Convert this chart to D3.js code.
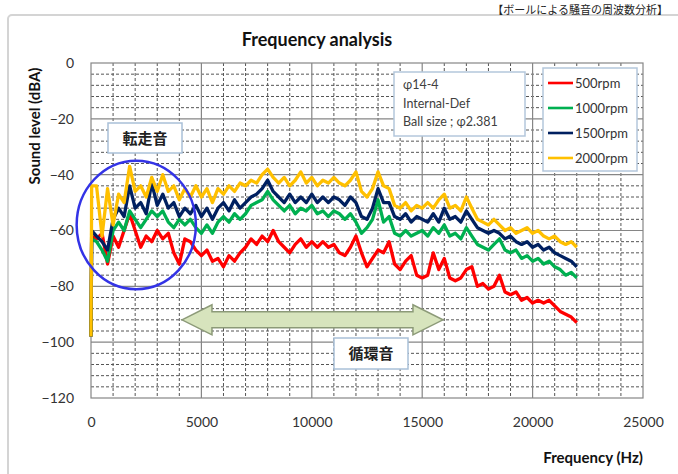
<!DOCTYPE html>
<html>
<head>
<meta charset="utf-8">
<script src="https://cdn.jsdelivr.net/npm/d3@7"></script>
<style>
body { margin: 0; background: #fff; }
svg { display: block; font-family: Lato, "Noto Sans CJK JP", sans-serif; }
</style>
</head>
<body>
<svg id="chart" width="678" height="474"></svg>
<script>
// frequency points (Hz)
var freq = [0, 30, 250, 500, 750, 1000, 1250, 1500, 1750, 2000, 2250, 2500, 2750, 3000, 3250, 3500, 3750, 4000,
  4250, 4500, 4750, 5000, 5250, 5500, 5750, 6000, 6250, 6500, 6750, 7000, 7250, 7500, 7750, 8000,
  8250, 8500, 8750, 9000, 9250, 9500, 9750, 10000, 10250, 10500, 10750, 11000, 11250, 11500, 11750, 12000,
  12250, 12500, 12750, 13000, 13250, 13500, 13750, 14000, 14250, 14500, 14750, 15000, 15250, 15500, 15750, 16000,
  16250, 16500, 16750, 17000, 17250, 17500, 17750, 18000, 18250, 18500, 18750, 19000, 19250, 19500, 19750, 20000,
  20250, 20500, 20750, 21000, 21250, 21500, 21750, 22000];

// sound level (dBA) per rpm
var rpm500 = [-98, -62,
  -63, -61, -72, -62, -66, -60, -54, -60, -66, -62,
  -64, -60, -63, -61, -68, -72, -63, -64, -67, -69,
  -67, -71, -70, -73, -69, -71, -68, -66, -63, -65,
  -62, -64, -60, -64, -66, -68, -65, -63, -66, -64,
  -66, -64, -66, -65, -68, -69, -66, -62, -68, -73,
  -70, -67, -68, -64, -72, -74, -71, -69, -76, -77,
  -76, -68, -74, -70, -77, -78, -77, -74, -73, -80,
  -79, -81, -80, -76, -82, -83, -82, -85, -84, -86,
  -85, -86, -85, -87, -89, -90, -91, -93];
var rpm1000 = [-98, -63,
  -64, -67, -71, -60, -57, -60, -53, -56, -59, -56,
  -53, -55, -53, -57, -59, -56, -58, -56, -59, -61,
  -58, -61, -57, -55, -57, -54, -56, -54, -51, -50,
  -49, -46, -49, -51, -53, -51, -54, -52, -53, -51,
  -54, -53, -55, -53, -54, -56, -54, -57, -61, -59,
  -56, -49, -57, -55, -61, -62, -60, -62, -61, -60,
  -62, -59, -61, -58, -62, -61, -63, -59, -62, -65,
  -66, -67, -65, -63, -67, -68, -67, -70, -69, -71,
  -70, -72, -71, -73, -74, -76, -75, -77];
var rpm1500 = [-98, -60,
  -62, -64, -67, -56, -52, -55, -44, -52, -50, -54,
  -43, -51, -47, -52, -50, -55, -52, -54, -51, -55,
  -52, -56, -52, -50, -53, -49, -52, -50, -48, -47,
  -45, -42, -46, -48, -50, -47, -50, -48, -50, -47,
  -50, -48, -50, -48, -49, -51, -48, -50, -55, -56,
  -52, -45, -50, -50, -55, -56, -54, -57, -55, -56,
  -57, -54, -57, -52, -56, -55, -57, -53, -56, -59,
  -60, -61, -60, -61, -63, -62, -64, -65, -64, -66,
  -65, -67, -66, -68, -69, -70, -71, -73];
var rpm2000 = [-98, -44,
  -44, -62, -45, -58, -47, -50, -37, -46, -44, -48,
  -41, -46, -40, -46, -44, -49, -45, -48, -44, -48,
  -45, -50, -45, -47, -44, -46, -43, -44, -42, -43,
  -40, -38, -41, -43, -41, -44, -42, -39, -43, -41,
  -44, -42, -43, -41, -43, -44, -42, -39, -46, -48,
  -45, -39, -44, -45, -51, -52, -50, -53, -51, -52,
  -50, -52, -49, -47, -52, -51, -53, -48, -52, -56,
  -57, -58, -56, -58, -60, -59, -61, -60, -59, -61,
  -60, -62, -63, -62, -64, -65, -64, -66];

var seriesNames = ["500rpm", "1000rpm", "1500rpm", "2000rpm"];
var seriesColors = ["#ff0000", "#00b050", "#002060", "#ffc000"];
var seriesValues = [rpm500, rpm1000, rpm1500, rpm2000];

var xTicks = [0, 5000, 10000, 15000, 20000, 25000];
var yTicks = [0, -20, -40, -60, -80, -100, -120];
var infoLines = ["\u03c614-4", "Internal-Def", "Ball size ; \u03c62.381"];

var svg = d3.select("#chart");

// chart frame
svg.append("rect")
  .attr("x", 8).attr("y", 15).attr("width", 720).attr("height", 520)
  .attr("rx", 4)
  .attr("fill", "#fff").attr("stroke", "#d4d4d4").attr("stroke-width", 2);

// page heading above the chart
svg.append("text")
  .attr("x", 668).attr("y", 13.5)
  .attr("text-anchor", "end")
  .attr("font-family", "Noto Sans CJK JP")
  .attr("font-size", 11).attr("fill", "#222")
  .text("【ボールによる騒音の周波数分析】");

var x = d3.scaleLinear().domain([0, 25000]).range([91, 643]);
var y = d3.scaleLinear().domain([-120, 0]).range([398, 63]);

var grid = svg.append("g");
// minor grid
grid.selectAll(".vminor")
  .data(d3.range(1000, 25000, 1000).filter(d => d % 5000 != 0))
  .enter().append("line")
  .attr("x1", d => x(d)).attr("x2", d => x(d))
  .attr("y1", y(0)).attr("y2", y(-120))
  .attr("stroke", "#555").attr("stroke-width", 1).attr("stroke-dasharray", "3,2");
grid.selectAll(".hminor")
  .data(d3.range(-116, 0, 4).filter(d => d % 20 != 0))
  .enter().append("line")
  .attr("y1", d => y(d)).attr("y2", d => y(d))
  .attr("x1", x(0)).attr("x2", x(25000))
  .attr("stroke", "#555").attr("stroke-width", 1).attr("stroke-dasharray", "3,2");
// major grid
grid.selectAll(".vmajor")
  .data(xTicks.slice(1, -1))
  .enter().append("line")
  .attr("x1", d => x(d)).attr("x2", d => x(d))
  .attr("y1", y(0)).attr("y2", y(-120))
  .attr("stroke", "#868686").attr("stroke-width", 1.2);
grid.selectAll(".hmajor")
  .data(yTicks.slice(1, -1))
  .enter().append("line")
  .attr("y1", d => y(d)).attr("y2", d => y(d))
  .attr("x1", x(0)).attr("x2", x(25000))
  .attr("stroke", "#868686").attr("stroke-width", 1.2);

svg.append("rect")
  .attr("x", x(0)).attr("y", y(0))
  .attr("width", x(25000) - x(0)).attr("height", y(-120) - y(0))
  .attr("fill", "none").attr("stroke", "#868686").attr("stroke-width", 1.2);

// axes
var yAxis = svg.append("g")
  .attr("transform", "translate(" + (x(0) - 17) + ",0)")
  .call(d3.axisLeft(y).tickValues(yTicks).tickSize(0).tickPadding(0));
yAxis.select(".domain").remove();
yAxis.selectAll("text").attr("font-size", 14).attr("fill", "#333").attr("font-family", "Lato");

var xAxis = svg.append("g")
  .attr("transform", "translate(0," + (y(-120) + 19) + ")")
  .call(d3.axisBottom(x).tickValues(xTicks).tickFormat(d3.format("d")).tickSize(0).tickPadding(0));
xAxis.select(".domain").remove();
xAxis.selectAll("text").attr("font-size", 14).attr("fill", "#333").attr("font-family", "Lato");

// series
var line = d3.line()
  .x((d, i) => x(freq[i]))
  .y(d => y(d));

svg.append("g").selectAll("path")
  .data(seriesValues)
  .enter().append("path")
  .attr("d", d => line(d))
  .attr("fill", "none")
  .attr("stroke", (d, i) => seriesColors[i])
  .attr("stroke-width", 3.3)
  .attr("stroke-linejoin", "round");

// titles
svg.append("text")
  .attr("x", 317).attr("y", 46)
  .attr("text-anchor", "middle")
  .attr("font-size", 18).attr("font-weight", "bold").attr("fill", "#111")
  .text("Frequency analysis");

svg.append("text")
  .attr("transform", "translate(40,126) rotate(-90)")
  .attr("text-anchor", "middle")
  .attr("font-size", 15).attr("font-weight", "bold").attr("fill", "#111")
  .text("Sound level (dBA)");

svg.append("text")
  .attr("x", 643).attr("y", 463)
  .attr("text-anchor", "end")
  .attr("font-size", 15).attr("font-weight", "bold").attr("fill", "#111")
  .text("Frequency (Hz)");

// info box
svg.append("rect")
  .attr("x", 394).attr("y", 72).attr("width", 131).attr("height", 64)
  .attr("fill", "#fff").attr("stroke", "#b4c7dc").attr("stroke-width", 1.5);
svg.append("g").selectAll("text")
  .data(infoLines)
  .enter().append("text")
  .attr("x", 403).attr("y", (d, i) => 89 + i * 18.5)
  .attr("font-size", 12.5).attr("fill", "#404040")
  .text(d => d);

// legend
svg.append("rect")
  .attr("x", 543).attr("y", 68).attr("width", 94).attr("height", 103)
  .attr("fill", "#fff").attr("stroke", "#b4c7dc").attr("stroke-width", 1.5);
var leg = svg.append("g").selectAll("g")
  .data(seriesNames)
  .enter().append("g")
  .attr("transform", (d, i) => "translate(548," + (83 + i * 25) + ")");
leg.append("line")
  .attr("x1", 0).attr("x2", 25)
  .attr("stroke", (d, i) => seriesColors[i]).attr("stroke-width", 2.6);
leg.append("text")
  .attr("x", 27).attr("y", 4.5)
  .attr("font-size", 13).attr("fill", "#333")
  .text(d => d);

// annotation: circle around rolling noise
svg.append("ellipse")
  .attr("cx", x(2050)).attr("cy", y(-58))
  .attr("rx", x(2700) - x(0)).attr("ry", y(-81) - y(-58))
  .attr("fill", "none").attr("stroke", "#3333e6").attr("stroke-width", 2.5);

svg.append("rect")
  .attr("x", 108).attr("y", 123).attr("width", 74).attr("height", 30)
  .attr("fill", "#fff").attr("stroke", "#a9c0d8").attr("stroke-width", 1.5);
svg.append("text")
  .attr("x", 145).attr("y", 144)
  .attr("text-anchor", "middle")
  .attr("font-family", "Noto Sans CJK JP")
  .attr("font-size", 15).attr("font-weight", "bold").attr("fill", "#222")
  .text("転走音");

// annotation: double arrow
var ax1 = x(4120), ax2 = x(15940), ay = y(-92);
var headL = 30, headH = 15, shaftH = 8;
var arrowPts = [
  [ax1, ay], [ax1 + headL, ay - headH], [ax1 + headL, ay - shaftH],
  [ax2 - headL, ay - shaftH], [ax2 - headL, ay - headH], [ax2, ay],
  [ax2 - headL, ay + headH], [ax2 - headL, ay + shaftH],
  [ax1 + headL, ay + shaftH], [ax1 + headL, ay + headH]
];
svg.append("path")
  .attr("d", d3.line()(arrowPts) + "Z")
  .attr("fill", "#d7e4bd").attr("stroke", "#8c9a78").attr("stroke-width", 1.5);

svg.append("rect")
  .attr("x", 334).attr("y", 338).attr("width", 74).attr("height", 31)
  .attr("fill", "#fff").attr("stroke", "#a9c0d8").attr("stroke-width", 1.5);
svg.append("text")
  .attr("x", 371).attr("y", 359)
  .attr("text-anchor", "middle")
  .attr("font-family", "Noto Sans CJK JP")
  .attr("font-size", 15).attr("font-weight", "bold").attr("fill", "#222")
  .text("循環音");
</script>
</body>
</html>
